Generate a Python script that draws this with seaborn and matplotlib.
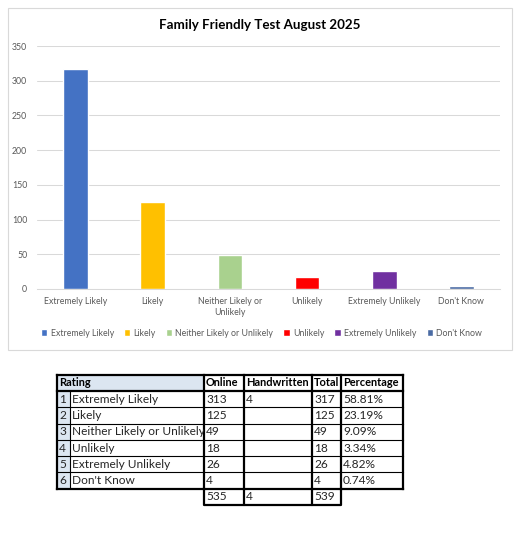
import matplotlib
matplotlib.use('Agg')
import matplotlib.pyplot as plt
from matplotlib.patches import Rectangle
import pandas as pd
import seaborn as sns

# data
ratings = ['Extremely Likely', 'Likely', 'Neither Likely or Unlikely', 'Unlikely',
           'Extremely Unlikely', "Don't Know"]
tick_labels = ['Extremely Likely', 'Likely', 'Neither Likely or\nUnlikely', 'Unlikely',
               'Extremely Unlikely', "Don't Know"]
online = [313, 125, 49, 18, 26, 4]
handwritten = [4, None, None, None, None, None]
totals = [317, 125, 49, 18, 26, 4]
percentages = ['58.81%', '23.19%', '9.09%', '3.34%', '4.82%', '0.74%']
sum_row = ['535', '4', '539']
colors = ['#4472C4', '#FFC000', '#A9D18E', '#FF0000', '#7030A0', '#4A6BA3']

df = pd.DataFrame({'Rating': ratings, 'Total': totals})

sns.set_style('white')
plt.rcParams['font.family'] = ['Lato', 'DejaVu Sans']

W, H = 528, 552
fig = plt.figure(figsize=(W / 100, H / 100), dpi=100)

# background layer in pixel coords (chart frame + table)
bg = fig.add_axes([0, 0, 1, 1])
bg.set_xlim(0, W)
bg.set_ylim(H, 0)
bg.axis('off')
bg.add_patch(Rectangle((8, 8), 504, 342, fill=False, ec='#D9D9D9', lw=0.8))

# bar chart
ax = fig.add_axes([37 / W, 1 - 289 / H, 463 / W, 243 / H])
sns.barplot(data=df, x='Rating', y='Total', hue='Rating', palette=colors,
            width=0.32, saturation=1, ax=ax, legend=True)
ax.set_xlim(-0.5, 5.5)
ax.set_ylim(0, 350)
ax.set_yticks(range(0, 351, 50))
ax.set_xticks(range(len(tick_labels)))
ax.set_xticklabels(tick_labels, linespacing=1.3)
ax.set_xlabel('')
ax.set_ylabel('')
ax.set_facecolor('none')
ax.yaxis.grid(True, color='#D9D9D9', lw=0.75)
ax.set_axisbelow(True)
for s in ['left', 'top', 'right']:
    ax.spines[s].set_visible(False)
ax.spines['bottom'].set_color('#D9D9D9')
ax.spines['bottom'].set_linewidth(0.75)
ax.tick_params(axis='both', length=0, labelsize=6.3, labelcolor='#595959')
ax.tick_params(axis='y', pad=7)
ax.tick_params(axis='x', pad=5.5)

sns.move_legend(ax, 'center', bbox_to_anchor=(261.5 / W, 1 - 333 / H),
                bbox_transform=fig.transFigure, ncol=6, frameon=False, title=None,
                fontsize=6.3, handlelength=0.7, handleheight=0.7,
                handletextpad=0.4, columnspacing=1.15, borderpad=0)
for t in ax.get_legend().get_texts():
    t.set_color('#595959')

fig.text(260 / W, 1 - 25 / H, 'Family Friendly Test August 2025', ha='center',
         va='center', fontsize=9.6, fontweight='bold', color='black')

# table under the chart
cx = [57, 70, 204, 244, 312, 341, 403]
ry = [375, 391, 407.3, 423.6, 440, 456, 472.3, 488.6, 505]
blue = '#DCE6F1'
fs = 8.6

bg.add_patch(Rectangle((cx[0], ry[0]), cx[2] - cx[0], ry[1] - ry[0], fc=blue, ec='none'))
bg.add_patch(Rectangle((cx[0], ry[1]), cx[1] - cx[0], ry[7] - ry[1], fc=blue, ec='none'))

headers = [('Rating', cx[0]), ('Online', cx[2]), ('Handwritten', cx[3]),
           ('Total', cx[4]), ('Percentage', cx[5])]
for label, x in headers:
    bg.text(x + 2, (ry[0] + ry[1]) / 2, label, ha='left', va='center',
            fontsize=7.9, fontweight='bold', color='black')

for i, name in enumerate(ratings):
    yc = (ry[i + 1] + ry[i + 2]) / 2
    bg.text(cx[0] + 2, yc, str(i + 1), ha='left', va='center', fontsize=fs)
    t = bg.text(cx[1] + 2, yc, name, ha='left', va='center', fontsize=fs, clip_on=True)
    t.set_clip_path(Rectangle((cx[1], ry[i + 1]), cx[2] - cx[1], ry[i + 2] - ry[i + 1],
                              transform=bg.transData))
    bg.text(cx[2] + 2, yc, str(online[i]), ha='left', va='center', fontsize=fs)
    if handwritten[i] is not None:
        bg.text(cx[3] + 2, yc, str(handwritten[i]), ha='left', va='center', fontsize=fs)
    bg.text(cx[4] + 2, yc, str(totals[i]), ha='left', va='center', fontsize=fs)
    bg.text(cx[5] + 2, yc, percentages[i], ha='left', va='center', fontsize=fs)

yc = (ry[7] + ry[8]) / 2
for j, v in enumerate(sum_row):
    bg.text(cx[2 + j] + 2, yc, v, ha='left', va='center', fontsize=fs)

thick, thin = 1.6, 0.8
# horizontal lines
for k in range(8):
    lw = thick if k in (0, 1, 7) else thin
    bg.plot([cx[0], cx[6]], [ry[k], ry[k]], color='black', lw=lw, solid_capstyle='projecting')
# vertical lines
for k, x in enumerate(cx):
    if k == 1:
        bg.plot([x, x], [ry[1], ry[7]], color='black', lw=thin)
    else:
        bg.plot([x, x], [ry[0], ry[7]], color='black', lw=thick, solid_capstyle='projecting')
# total row box
bg.plot([cx[2], cx[2], cx[5], cx[5]], [ry[7], ry[8], ry[8], ry[7]], color='black', lw=thick,
        solid_capstyle='projecting')
for x in (cx[3], cx[4]):
    bg.plot([x, x], [ry[7], ry[8]], color='black', lw=thick)

fig.savefig('out.png', dpi=100)
